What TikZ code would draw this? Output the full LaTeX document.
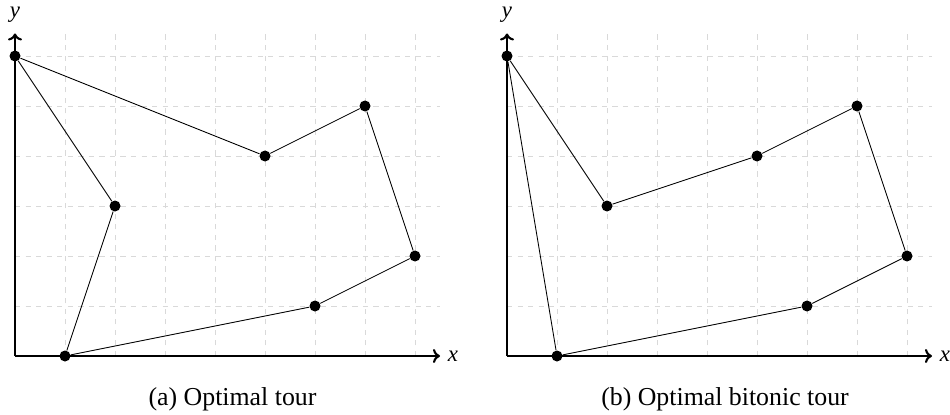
\documentclass[tikz,border=0pt]{standalone}
\usepackage{fontspec}
\setmainfont{Liberation Serif}
\usetikzlibrary{arrows.meta}
\tikzset{
  gridline/.style={draw=black!15, dashed, line width=0.4pt},
  axisline/.style={line width=1.6pt, -{To[length=4pt,width=8pt,line width=1.2pt]}},
  tourline/.style={line width=0.5pt},
  pt/.style={circle, fill=black, inner sep=0pt, minimum size=0.22cm},
  axislabel/.style={font=\fontsize{13}{15}\selectfont\itshape},
  captionlabel/.style={font=\fontsize{14.7}{17}\selectfont}
}
\begin{document}
\begin{tikzpicture}
\useasboundingbox (-0.3,-1.16) rectangle (18.7,7.12);
% Panel (a)
\begin{scope}
  \draw[gridline] (0,0) grid (8.5,6.45);
  \coordinate (oa) at (0,0);
  \coordinate (xa) at (8.5,0);
  \coordinate (ya) at (0,6.45);
  \draw[axisline] (oa) -- (xa);
  \draw[axisline] (oa) -- (ya);
  \node[axislabel] (lxa) at (8.76,0) {x};
  \node[axislabel] (lya) at (0,6.82) {y};
  \node[pt] (a1) at (0,6) {};
  \node[pt] (a2) at (2,3) {};
  \node[pt] (a3) at (1,0) {};
  \node[pt] (a4) at (5,4) {};
  \node[pt] (a5) at (7,5) {};
  \node[pt] (a6) at (8,2) {};
  \node[pt] (a7) at (6,1) {};
  \draw[tourline] (a1) -- (a4) -- (a5) -- (a6) -- (a7) -- (a3) -- (a2) -- (a1);
  \node[captionlabel] (ca) at (4.35,-0.86) {(a) Optimal tour};
\end{scope}
% Panel (b)
\begin{scope}[xshift=9.84cm]
  \draw[gridline] (0,0) grid (8.5,6.45);
  \coordinate (ob) at (0,0);
  \coordinate (xb) at (8.5,0);
  \coordinate (yb) at (0,6.45);
  \draw[axisline] (ob) -- (xb);
  \draw[axisline] (ob) -- (yb);
  \node[axislabel] (lxb) at (8.76,0) {x};
  \node[axislabel] (lyb) at (0,6.82) {y};
  \node[pt] (b1) at (0,6) {};
  \node[pt] (b2) at (2,3) {};
  \node[pt] (b3) at (1,0) {};
  \node[pt] (b4) at (5,4) {};
  \node[pt] (b5) at (7,5) {};
  \node[pt] (b6) at (8,2) {};
  \node[pt] (b7) at (6,1) {};
  \draw[tourline] (b1) -- (b2) -- (b4) -- (b5) -- (b6) -- (b7) -- (b3) -- (b1);
  \node[captionlabel] (cb) at (4.36,-0.86) {(b) Optimal bitonic tour};
\end{scope}
\end{tikzpicture}
\end{document}
